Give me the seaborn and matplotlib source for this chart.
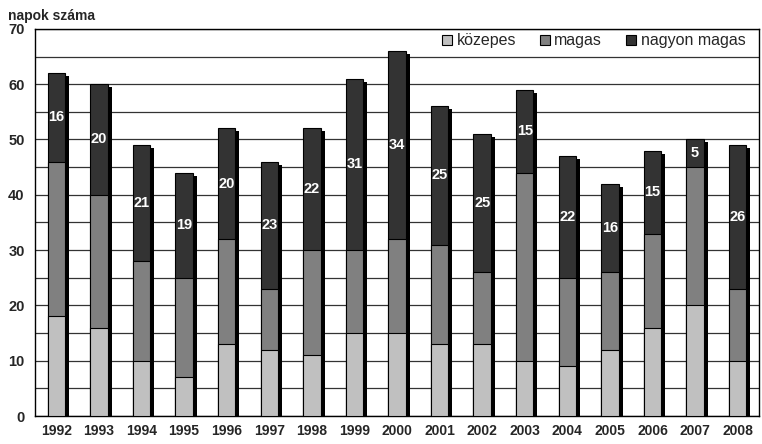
import matplotlib
matplotlib.use("Agg")
import matplotlib.pyplot as plt
import matplotlib.transforms as mtransforms
from matplotlib.patches import Patch
from matplotlib.ticker import MultipleLocator, FixedLocator
import numpy as np
import pandas as pd
import seaborn as sns

years = ["1992", "1993", "1994", "1995", "1996", "1997", "1998", "1999", "2000",
         "2001", "2002", "2003", "2004", "2005", "2006", "2007", "2008"]
kozepes = [18, 16, 10, 7, 13, 12, 11, 15, 15, 13, 13, 10, 9, 12, 16, 20, 10]
magas = [28, 24, 18, 18, 19, 11, 19, 15, 17, 18, 13, 34, 16, 14, 17, 25, 13]
nagyon_magas = [16, 20, 21, 19, 20, 23, 22, 31, 34, 25, 25, 15, 22, 16, 15, 5, 26]

series_names = ["közepes", "magas", "nagyon magas"]
colors = ["#c0c0c0", "#808080", "#333333"]

df = pd.DataFrame({"ev": years, "k": kozepes, "m": magas, "n": nagyon_magas})
df["km"] = df["k"] + df["m"]
df["total"] = df["km"] + df["n"]

sns.set_style("white")
plt.rcParams["font.family"] = ["Liberation Sans", "DejaVu Sans"]

fig = plt.figure(figsize=(7.62, 4.44), dpi=100)
ax = fig.add_axes([0.046, 0.063, 0.950, 0.872])

bw = 0.41
# drop shadow: full-height black bars shifted right/down
sns.barplot(data=df, x="ev", y="total", color="black", width=bw, saturation=1,
            ax=ax, zorder=2, linewidth=0)
shift = mtransforms.ScaledTranslation(4 / 100, -3 / 100, fig.dpi_scale_trans)
for p in ax.patches:
    p.set_transform(ax.transData + shift)

# stacked segments, drawn as cumulative heights from tallest to shortest
for col, c in zip(["total", "km", "k"], colors[::-1]):
    sns.barplot(data=df, x="ev", y=col, color=c, width=bw, saturation=1,
                ax=ax, zorder=3, edgecolor="black", linewidth=0.8)

# values of the top segment
for i, (b, v) in enumerate(zip(df["km"], df["n"])):
    ax.text(i, b + v / 2, str(v), ha="center", va="center", color="white",
            fontsize=10.5, fontweight="bold", zorder=5)

ax.set_ylim(0, 70)
ax.set_xlim(-0.5, len(years) - 0.5)
ax.yaxis.set_major_locator(MultipleLocator(10))
ax.yaxis.set_minor_locator(MultipleLocator(5))
ax.grid(axis="y", which="both", color="#333333", linewidth=0.9, zorder=0)
ax.set_axisbelow(True)

ax.set_xlabel("")
ax.set_ylabel("")
ax.xaxis.set_minor_locator(FixedLocator(np.arange(-0.5, len(years), 1.0)))
ax.tick_params(axis="x", which="major", length=0, labelsize=10, pad=6)
ax.tick_params(axis="x", which="minor", length=4, width=0.8, direction="out")
ax.tick_params(axis="y", which="both", length=4, width=0.8, direction="out", labelsize=10.5)
for lab in ax.get_xticklabels() + ax.get_yticklabels():
    lab.set_fontweight("bold")

for s in ax.spines.values():
    s.set_visible(True)
    s.set_color("black")
    s.set_linewidth(1.0)

handles = [Patch(facecolor=c, edgecolor="black", linewidth=0.8, label=n)
           for c, n in zip(colors, series_names)]
leg = ax.legend(handles=handles, ncol=3, loc="upper right", frameon=False,
                fontsize=11.5, handlelength=0.6, handleheight=0.6, handletextpad=0.3,
                columnspacing=1.5, borderaxespad=0.0, bbox_to_anchor=(0.99, 1.005))
leg.set_zorder(6)

fig.text(0.011, 0.965, "napok száma", fontsize=10, fontweight="bold", ha="left", va="center")

fig.savefig("out.png", dpi=100)
